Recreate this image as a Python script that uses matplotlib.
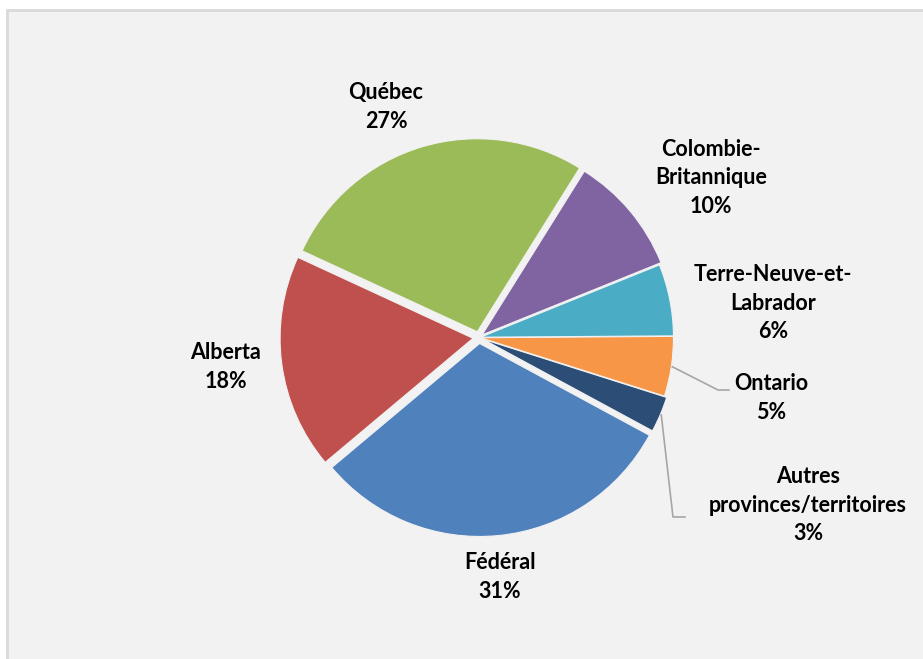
import numpy as np
import matplotlib

matplotlib.use("Agg")
import matplotlib.pyplot as plt
from matplotlib.patches import Rectangle

# Données (ordre anti-horaire à partir du Fédéral)
categories = ["Fédéral", "Autres\nprovinces/territoires", "Ontario",
              "Terre-Neuve-et-\nLabrador", "Colombie-\nBritannique", "Québec", "Alberta"]
values = [31, 3, 5, 6, 10, 27, 18]
colors = ["#4F81BD", "#2C4D75", "#F79646", "#4BACC6", "#8064A2", "#9BBB59", "#C0504D"]
# décalage des parts (en pixels)
explode = [6, 4, 1.5, 1.5, 4, 6, 6]

# positions des étiquettes (pixels image)
label_pos = [(500, 577), (808, 505), (771, 398), (773, 303), (711, 178), (386, 107), (226, 367)]

W, H = 923, 659
fig = plt.figure(figsize=(W / 100, H / 100), dpi=100)
fig.patch.set_facecolor("white")
ax = fig.add_axes([0, 0, 1, 1])

ax.add_patch(Rectangle((7, -5), W, H - 10 + 5, facecolor="#F2F2F2",
                       edgecolor="#D9D9D9", linewidth=2, zorder=0))

cx, cy, r = 479, H - 337.5, 193
wedges, _ = ax.pie(values, colors=colors, explode=explode, startangle=220,
                   counterclock=True, center=(cx, cy), radius=r, frame=True,
                   wedgeprops=dict(edgecolor="#F2F2F2", linewidth=0.8))
ax.set_xlim(0, W)
ax.set_ylim(0, H)
ax.set_aspect("equal")
ax.axis("off")

for name, v, (lx, ly) in zip(categories, values, label_pos):
    ax.text(lx, H - ly, f"{name}\n{v}%", ha="center", va="center",
            fontsize=15.5, fontweight="bold", color="black", linespacing=1.47,
            family=["Lato", "DejaVu Sans"])

# lignes de rappel pour Ontario et Autres
total = sum(values)
angles = np.cumsum([0] + values)
for idx, elbow, end in [(2, (718, 390), (729, 390)), (1, (673, 517), (685, 517))]:
    mid = np.deg2rad(220 + (angles[idx] + angles[idx + 1]) / 2 / total * 360)
    sx = cx + (r + explode[idx] + 1) * np.cos(mid)
    sy = cy + (r + explode[idx] + 1) * np.sin(mid)
    ax.plot([sx, elbow[0], end[0]], [sy, H - elbow[1], H - end[1]],
            color="#A6A6A6", linewidth=1.2, zorder=3)

fig.savefig("out.png", dpi=100, facecolor=fig.get_facecolor())
